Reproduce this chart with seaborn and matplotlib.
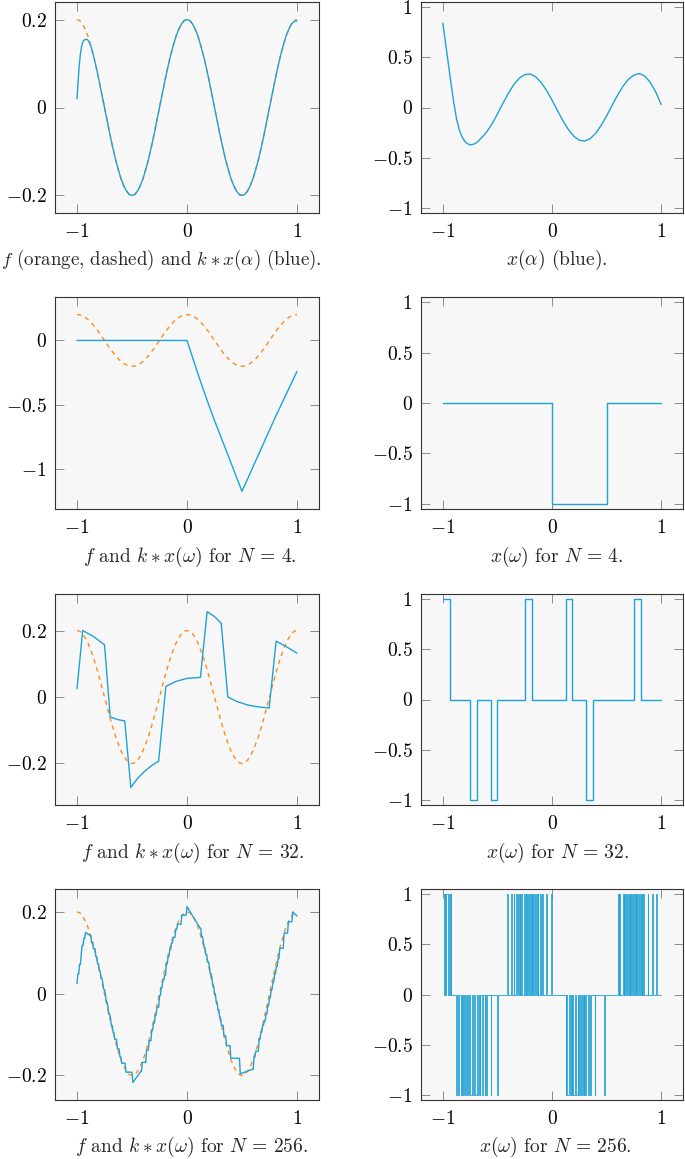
import numpy as np
import matplotlib
matplotlib.use("Agg")
import matplotlib.pyplot as plt
import seaborn as sns

# ---------------- data ----------------
# f on a 0.025 grid from -1 to 1
F_X = np.linspace(-1.0, 1.0, 81)
F_Y = [0.200, 0.198, 0.190, 0.178, 0.162, 0.141, 0.118, 0.091, 0.062, 0.031,
       0.000, -0.031, -0.062, -0.091, -0.118, -0.141, -0.162, -0.178, -0.190, -0.198,
       -0.200, -0.198, -0.190, -0.178, -0.162, -0.141, -0.118, -0.091, -0.062, -0.031,
       0.000, 0.031, 0.062, 0.091, 0.118, 0.141, 0.162, 0.178, 0.190, 0.198,
       0.200, 0.198, 0.190, 0.178, 0.162, 0.141, 0.118, 0.091, 0.062, 0.031,
       0.000, -0.031, -0.062, -0.091, -0.118, -0.141, -0.162, -0.178, -0.190, -0.198,
       -0.200, -0.198, -0.190, -0.178, -0.162, -0.141, -0.118, -0.091, -0.062, -0.031,
       0.000, 0.031, 0.062, 0.091, 0.118, 0.141, 0.162, 0.178, 0.190, 0.198, 0.200]

# k * x(alpha)
KA_X = [-1.0, -0.99, -0.98, -0.97, -0.96, -0.95, -0.94, -0.93, -0.92, -0.91, -0.90, -0.89] \
    + list(np.linspace(-0.875, 1.0, 76))
KA_Y = [0.020, 0.060, 0.095, 0.120, 0.137, 0.147, 0.152, 0.154, 0.155, 0.155, 0.153, 0.149,
        0.141, 0.118, 0.091, 0.062, 0.031,
        0.000, -0.031, -0.062, -0.091, -0.118, -0.141, -0.162, -0.178, -0.190, -0.198,
        -0.200, -0.198, -0.190, -0.178, -0.162, -0.141, -0.118, -0.091, -0.062, -0.031,
        0.000, 0.031, 0.062, 0.091, 0.118, 0.141, 0.162, 0.178, 0.190, 0.198,
        0.200, 0.198, 0.190, 0.178, 0.162, 0.141, 0.118, 0.091, 0.062, 0.031,
        0.000, -0.031, -0.062, -0.091, -0.118, -0.141, -0.162, -0.178, -0.190, -0.198,
        -0.200, -0.198, -0.190, -0.178, -0.162, -0.141, -0.118, -0.091, -0.062, -0.031,
        0.000, 0.031, 0.062, 0.091, 0.118, 0.141, 0.162, 0.178, 0.190, 0.196, 0.197]

# x(alpha)
XA_X = [-1.0, -0.975, -0.95, -0.925, -0.9, -0.875, -0.85, -0.825, -0.8, -0.775,
        -0.75, -0.725, -0.7, -0.675, -0.65, -0.625, -0.6, -0.575, -0.55, -0.525,
        -0.5, -0.475] + list(np.linspace(-0.45, 1.0, 30))
XA_Y = [0.84, 0.64, 0.44, 0.24, 0.05, -0.11, -0.22, -0.29, -0.335, -0.36,
        -0.371, -0.368, -0.356, -0.335, -0.305, -0.277, -0.245, -0.206, -0.163, -0.115,
        -0.065, -0.012,
        0.041, 0.140, 0.227, 0.291, 0.328, 0.333, 0.306,
        0.250, 0.170, 0.074, -0.030, -0.131, -0.219, -0.286, -0.326, -0.334, -0.310,
        -0.257, -0.179, -0.084, 0.020, 0.121, 0.211, 0.280, 0.323, 0.338, 0.312,
        0.250, 0.155, 0.030]

# N = 4
XW4 = [0, 0, -1, 0]
KN4_X = [-1.0, 0.0, 0.05, 0.1, 0.15, 0.2, 0.25, 0.3, 0.35, 0.4, 0.45, 0.5,
         0.6, 0.7, 0.8, 0.9, 1.0]
KN4_Y = [0.0, 0.0, -0.13, -0.26, -0.385, -0.505, -0.62, -0.73, -0.84, -0.95, -1.06, -1.17,
         -0.98, -0.79, -0.60, -0.42, -0.24]

# N = 32
XW32 = [1, 0, 0, 0, -1, 0, 0, -1, 0, 0, 0, 0, 1, 0, 0, 0,
        0, 0, 1, 0, 0, -1, 0, 0, 0, 0, 0, 0, 1, 0, 0, 0]
KN32_X = [-1.0, -0.948, -0.85, -0.75, -0.698, -0.63, -0.566, -0.511, -0.45, -0.38, -0.32,
          -0.258, -0.192, -0.1, 0.0, 0.122, 0.183, 0.25, 0.311, 0.371, 0.45, 0.55, 0.65,
          0.747, 0.81, 0.9, 1.0]
KN32_Y = [0.025, 0.200, 0.182, 0.157, -0.060, -0.068, -0.072, -0.272, -0.245, -0.222, -0.206,
          -0.193, 0.032, 0.047, 0.056, 0.059, 0.257, 0.242, 0.222, 0.000, -0.013, -0.024, -0.030,
          -0.033, 0.168, 0.152, 0.132]

# N = 256: cells (0..255) holding +1 / -1
X256_PLUS = [0, 2, 4, 5, 7, 9,
             75, 80, 83, 86, 88, 90, 92, 95, 97, 99, 101, 103, 105, 107, 109, 111, 114, 116, 121, 127,
             205, 207, 211, 213, 215, 217, 219, 221, 223, 225, 227, 229, 231, 233, 235, 240, 245, 250]
X256_MINUS = [16, 18, 21, 23, 25, 27, 29, 30, 32, 33, 35, 36, 38, 39, 41, 43, 46, 49, 51, 56, 64,
              144, 146, 147, 149, 151, 153, 154, 156, 157, 159, 161, 163, 165, 167, 170, 173, 178, 189]
# level of k*x(omega) after each pulse (pulses in x order)
K256_LEVELS = [0.048, 0.072, 0.098, 0.118, 0.136, 0.150,
               0.125, 0.110, 0.090, 0.073, 0.055, 0.038, 0.027, 0.010, -0.002, -0.020, -0.032,
               -0.050, -0.060, -0.078, -0.095, -0.112, -0.135, -0.155, -0.170, -0.192, -0.217,
               -0.168, -0.138, -0.115, -0.090, -0.072, -0.053, -0.033, -0.005, 0.015, 0.034,
               0.045, 0.073, 0.091, 0.108, 0.124, 0.138, 0.158, 0.170, 0.192, 0.213,
               0.140, 0.128, 0.112, 0.095, 0.078, 0.067, 0.049, 0.039, 0.020, 0.000,
               -0.020, -0.039, -0.058, -0.077, -0.103, -0.127, -0.158, -0.196,
               -0.155, -0.141, -0.111, -0.094, -0.077, -0.067, -0.049, -0.029, -0.010, 0.010,
               0.029, 0.049, 0.067, 0.086, 0.111, 0.148, 0.176, 0.200]
# drift points between pulse groups
K256_ANCHOR_X = [-1.0, -0.88, -0.42, 0.12, 0.595, 1.0]
K256_ANCHOR_Y = [0.025, 0.142, -0.190, 0.160, -0.185, 0.190]

CAPTIONS = [r"$f$ (orange, dashed) and $k\ast x(\alpha)$ (blue).", r"$x(\alpha)$ (blue).",
            r"$f$ and $k\ast x(\omega)$ for $N\,=\,4$.", r"$x(\omega)$ for $N\,=\,4$.",
            r"$f$ and $k\ast x(\omega)$ for $N\,=\,32$.", r"$x(\omega)$ for $N\,=\,32$.",
            r"$f$ and $k\ast x(\omega)$ for $N\,=\,256$.", r"$x(\omega)$ for $N\,=\,256$."]

# ---------------- style ----------------
BLUE = "#1fa2d6"
ORANGE = "#ff8a1e"
sns.set_theme(style="ticks")
plt.rcParams.update({
    "font.family": "serif",
    "font.serif": ["cmr10"],
    "mathtext.fontset": "cm",
    "axes.formatter.use_mathtext": True,
    "axes.unicode_minus": True,
    "axes.facecolor": "#f7f7f7",
    "axes.edgecolor": "#333333",
    "axes.linewidth": 0.8,
})

W, H = 685, 1159
fig = plt.figure(figsize=(W / 100, H / 100), dpi=100)


def add_ax(l, t, w, h):
    return fig.add_axes([l / W, 1 - (t + h) / H, w / W, h / H])


def fmt(v):
    return f"${v:g}$"


def draw(ax, x, y, color, dashed=False, steps=False, lw=1.0):
    kw = dict(x=np.asarray(x, float), y=np.asarray(y, float), ax=ax, color=color,
              linewidth=lw, sort=False, estimator=None, legend=False)
    if steps:
        kw["drawstyle"] = "steps-post"
    sns.lineplot(**kw)
    ln = ax.lines[-1]
    if dashed:
        ln.set_dashes([3.2, 3.0])


def step_xy(vals):
    n = len(vals)
    edges = np.linspace(-1.0, 1.0, n + 1)
    return edges, list(vals) + [vals[-1]]


def style(ax, yticks, ylim):
    ax.set_xlim(-1.2, 1.2)
    ax.set_ylim(*ylim)
    ax.set_xticks([-1, 0, 1])
    ax.set_xticklabels([fmt(v) for v in [-1, 0, 1]])
    ax.set_yticks(yticks)
    ax.set_yticklabels([fmt(v) for v in yticks])
    ax.tick_params(direction="in", length=6.5, width=0.7, color="#8c8c8c",
                   top=True, right=True, labelsize=14, labelcolor="black")
    ax.tick_params(axis="x", pad=7)
    ax.tick_params(axis="y", pad=6)
    ax.set_xlabel("")
    ax.set_ylabel("")


def enlarged(*series):
    allv = np.concatenate([np.asarray(s, float) for s in series])
    lo, hi = allv.min(), allv.max()
    pad = 0.1 * (hi - lo)
    return (lo - pad, hi + pad)


LEFT, LW = 55, 264
RIGHT, RW = 421, 262
TOPS = [2, 297, 594, 889]
HS = [211, 212, 211, 211]

# Build N=256 k*x(omega) vertex path from pulse positions and read levels
cells = sorted(X256_PLUS + X256_MINUS)
events = [(x, 0, y) for x, y in zip(K256_ANCHOR_X, K256_ANCHOR_Y)]
events += [(-1.0 + c * 2 / 256, 1, lv) for c, lv in zip(cells, K256_LEVELS)]
events.sort(key=lambda e: (e[0], e[1]))
K256_X, K256_Y = [], []
last = None
for x, kind, y in events:
    if kind == 0:
        K256_X.append(x); K256_Y.append(y); last = y
    else:
        K256_X += [x, x + 2 / 256]; K256_Y += [last, y]; last = y

XW256 = [0] * 256
for c in X256_PLUS:
    XW256[c] = 1
for c in X256_MINUS:
    XW256[c] = -1

left_series = [
    (KA_X, KA_Y),
    (KN4_X, KN4_Y),
    (KN32_X, KN32_Y),
    (K256_X, K256_Y),
]
left_ticks = [[-0.2, 0, 0.2], [-1, -0.5, 0], [-0.2, 0, 0.2], [-0.2, 0, 0.2]]

for r in range(4):
    ax = add_ax(LEFT, TOPS[r], LW, HS[r])
    bx, by = left_series[r]
    draw(ax, F_X, F_Y, ORANGE, dashed=True)
    draw(ax, bx, by, BLUE)
    style(ax, left_ticks[r], enlarged(F_Y, by))

right_steps = [None, XW4, XW32, XW256]
for r in range(4):
    ax = add_ax(RIGHT, TOPS[r], RW, HS[r])
    if r == 0:
        draw(ax, XA_X, XA_Y, BLUE)
    else:
        ex, ey = step_xy(right_steps[r])
        draw(ax, ex, ey, BLUE, steps=True, lw=(0.6 if r == 3 else 1.0))
    style(ax, [-1, -0.5, 0, 0.5, 1], (-1.05, 1.05))

CAP_POS = [(161, 260), (557, 260), (190, 557), (557, 557),
           (193, 853), (557, 853), (192, 1147), (555, 1147)]
CAP_SIZE = [13.6, 14, 14, 14, 14, 14, 14, 14]
for (cx, cy), txt, fs in zip(CAP_POS, CAPTIONS, CAP_SIZE):
    fig.text(cx / W, 1 - cy / H, txt, ha="center", va="center", fontsize=fs)

fig.savefig("out.png", dpi=100)
